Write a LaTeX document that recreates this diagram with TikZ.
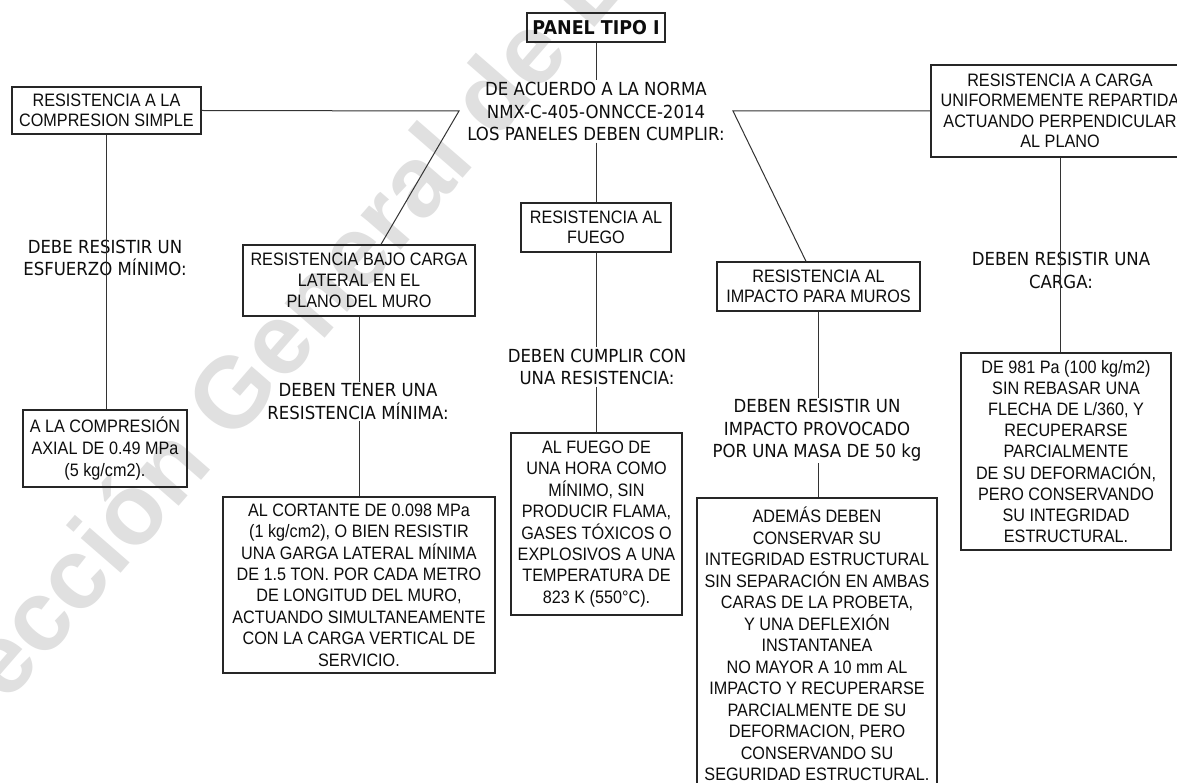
\documentclass[tikz,border=0pt]{standalone}
\usepackage{fontspec}
\setmainfont{Liberation Sans}[FakeStretch=0.9]
\newfontfamily\labfont{DejaVu Sans}[FakeStretch=0.92]
\newfontfamily\wmfont{Liberation Sans}
\usetikzlibrary{calc}
\begin{document}
\begin{tikzpicture}[x=1pt,y=-1pt,
  box/.style={draw=black!85, line width=1.3pt, align=center, inner sep=0pt, text=black!95},
  lab/.style={align=center, inner sep=1.5pt, text=black!95, font=\labfont\fontsize{18}{22.5}\selectfont},
  conn/.style={draw=black!80, line width=1pt},
  wm/.style={rotate=49, anchor=base west, inner sep=0pt, text=black!12, font=\wmfont\bfseries\fontsize{100}{100}\selectfont}]
\useasboundingbox (0,0) rectangle (1177,783);
\fill[white] (0,0) rectangle (1177,783);
\clip (0,0) rectangle (1177,783);
% watermark
\node[wm] (wmark) at (-84.5,809) {Dirección General de B};
% top
\node[box, line width=1.2pt, minimum width=138pt, minimum height=29pt, font=\labfont\bfseries\fontsize{19}{22}\selectfont] (panel) at (596,27.5) {PANEL TIPO I};
\node[lab] (norma) at (596,111.5) {DE ACUERDO A LA NORMA\\NMX-C-405-ONNCCE-2014\\LOS PANELES DEBEN CUMPLIR:};
% first level boxes
\node[box, minimum width=189pt, minimum height=47pt, font=\fontsize{18}{19.5}\selectfont] (compr) at (106.5,110.5) {RESISTENCIA A LA\\COMPRESION SIMPLE};
\node[box, minimum width=258pt, minimum height=92pt, font=\fontsize{18}{20.5}\selectfont] (carga) at (1060,111) {RESISTENCIA A CARGA\\UNIFORMEMENTE REPARTIDA\\ACTUANDO PERPENDICULAR\\AL PLANO};
\node[box, minimum width=232pt, minimum height=71pt, font=\fontsize{18}{21}\selectfont] (bajo) at (359,280.5) {RESISTENCIA BAJO CARGA\\LATERAL EN EL\\PLANO DEL MURO};
\node[box, minimum width=150pt, minimum height=49pt, font=\fontsize{18}{20}\selectfont] (fuego) at (596,227.5) {RESISTENCIA AL\\FUEGO};
\node[box, minimum width=203pt, minimum height=49pt, font=\fontsize{18}{20.5}\selectfont] (impacto) at (818.5,286.5) {RESISTENCIA AL\\IMPACTO PARA MUROS};
% detail boxes
\node[box, minimum width=164pt, minimum height=77pt, font=\fontsize{18}{22}\selectfont] (axial) at (105,448.5) {A LA COMPRESIÓN\\AXIAL DE 0.49 MPa\\(5 kg/cm2).};
\node[box, minimum width=272pt, minimum height=176pt, font=\fontsize{18}{21.4}\selectfont] (cortante) at (359,585) {AL CORTANTE DE 0.098 MPa\\(1 kg/cm2), O BIEN RESISTIR\\UNA GARGA LATERAL MÍNIMA\\DE 1.5 TON. POR CADA METRO\\DE LONGITUD DEL MURO,\\ACTUANDO SIMULTANEAMENTE\\CON LA CARGA VERTICAL DE\\SERVICIO.};
\node[box, minimum width=171pt, minimum height=182pt, font=\fontsize{18}{21.4}\selectfont] (fuegotxt) at (596.5,524) {AL FUEGO DE\\UNA HORA COMO\\MÍNIMO, SIN\\PRODUCIR FLAMA,\\GASES TÓXICOS O\\EXPLOSIVOS A UNA\\TEMPERATURA DE\\823 K (550°C).};
\node[box, line width=1.8pt, minimum width=240pt, minimum height=292pt, font=\fontsize{18}{21.5}\selectfont] (ademas) at (817,644) {ADEMÁS DEBEN\\CONSERVAR SU\\INTEGRIDAD ESTRUCTURAL\\SIN SEPARACIÓN EN AMBAS\\CARAS DE LA PROBETA,\\Y UNA DEFLEXIÓN\\INSTANTANEA\\NO MAYOR A 10 mm AL\\IMPACTO Y RECUPERARSE\\PARCIALMENTE DE SU\\DEFORMACION, PERO\\CONSERVANDO SU\\SEGURIDAD ESTRUCTURAL.};
\node[box, line width=1.8pt, minimum width=210pt, minimum height=197pt, font=\fontsize{18}{21.1}\selectfont] (de981) at (1066,451.5) {DE 981 Pa (100 kg/m2)\\SIN REBASAR UNA\\FLECHA DE L/360, Y\\RECUPERARSE\\PARCIALMENTE\\DE SU DEFORMACIÓN,\\PERO CONSERVANDO\\SU INTEGRIDAD\\ESTRUCTURAL.};
% labels
\node[lab] (lbl1) at (105,258) {DEBE RESISTIR UN\\ESFUERZO MÍNIMO:};
\node[lab] (lbl2) at (358,401.5) {DEBEN TENER UNA\\RESISTENCIA MÍNIMA:};
\node[lab] (lbl3) at (597,367) {DEBEN CUMPLIR CON\\UNA RESISTENCIA:};
\node[lab] (lbl4) at (817,430.5) {DEBEN RESISTIR UN\\IMPACTO PROVOCADO\\POR UNA MASA DE 50 kg};
\node[lab] (lbl5) at (1061,270.5) {DEBEN RESISTIR UNA\\CARGA:};
% connectors
\coordinate (jl) at (459,111);
\coordinate (jr) at (733,111);
\draw[conn] (panel.south) -- (norma.north);
\draw[conn] (norma.south) -- (fuego.north);
\draw[conn] (compr.east) -- (jl) -- ($(bajo.north)+(22,0)$);
\draw[conn] (carga.west) -- (jr) -- ($(impacto.north)+(-12.5,0)$);
\draw[conn] (compr.south) -- (compr.south |- axial.north);
\draw[conn] (bajo.south) -- (bajo.south |- lbl2.north);
\draw[conn] (bajo.south |- lbl2.south) -- (bajo.south |- cortante.north);
\draw[conn] (fuego.south) -- (fuego.south |- lbl3.north);
\draw[conn] (fuego.south |- lbl3.south) -- (fuego.south |- fuegotxt.north);
\draw[conn] (impacto.south) -- (impacto.south |- lbl4.north);
\draw[conn] (impacto.south |- lbl4.south) -- (impacto.south |- ademas.north);
\draw[conn] (carga.south) -- (carga.south |- de981.north);
\end{tikzpicture}
\end{document}
